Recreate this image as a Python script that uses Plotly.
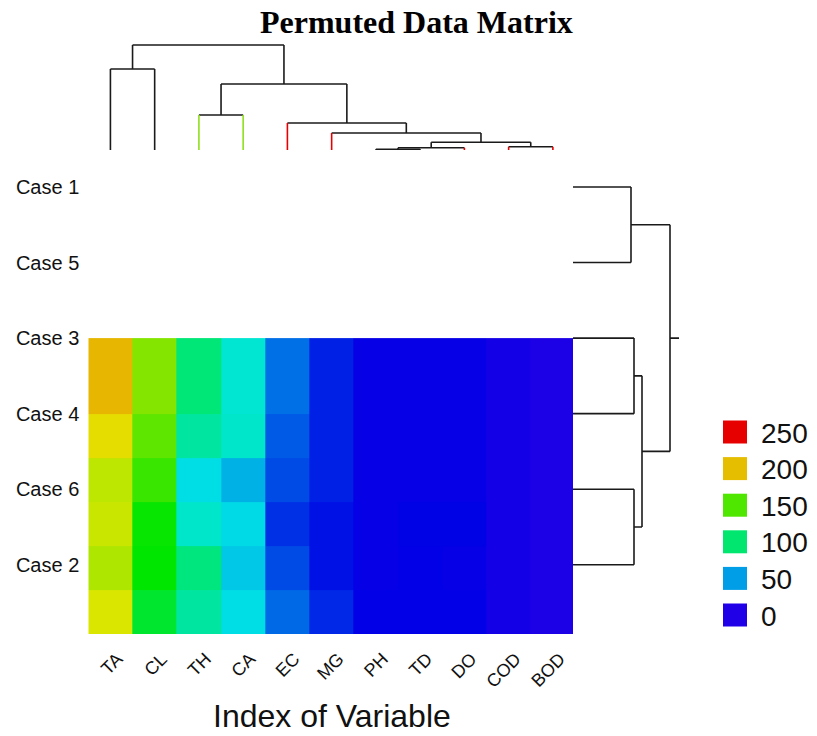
import colorsys
import plotly.graph_objects as go

# ---------------- data ----------------
variables = ["TA", "CL", "TH", "CA", "EC", "MG", "PH", "TD", "DO", "COD", "BOD"]
cases = ["Case 1", "Case 5", "Case 3", "Case 4", "Case 6", "Case 2"]

# heatmap values, bands from top to bottom
band_1 = [202, 164, 98, 74, 38, 17, 7, 7, 7, 3, 1]
band_2 = [192, 154, 87, 76, 32, 17, 7, 7, 7, 3, 1]
band_3 = [179, 144, 67, 55, 28, 17, 7, 7, 7, 3, 1]
band_4 = [182, 131, 76, 66, 21, 13, 7, 9, 9, 3, 1]
band_5 = [175, 129, 96, 61, 28, 13, 7, 8, 7, 3, 1]
band_6 = [187, 117, 87, 67, 36, 19, 8, 8, 8, 3, 1]
# band boundaries in case-index units (as drawn in the original)
band_edges = [2.0, 3.0, 3.583, 4.167, 4.75, 5.333, 5.917]

# column dendrogram merges: (left, right, height); leaves 0..10, new clusters 11..
col_merges = [
    (6, 7, 3),
    (11, 8, 9),
    (9, 10, 13),
    (12, 13, 31),
    (5, 14, 68),
    (4, 15, 108),
    (2, 3, 140),
    (17, 16, 264),
    (0, 1, 324),
    (19, 18, 420),
]
col_leaf_group = ["k", "k", "g", "g", "r", "r", "k", "k", "r", "r", "r"]

# row dendrogram merges: leaves 0..5 in displayed order, new clusters 6..
row_merges = [
    (0, 1, 232),
    (2, 3, 244),
    (4, 5, 244),
    (7, 8, 276),
    (6, 9, 388),
]

legend_values = [250, 200, 150, 100, 50, 0]

# ---------------- styling helpers ----------------
W, H = 817, 736
HUE_END = 0.69
ZMAX = 250.0


def value_color(v):
    h = HUE_END * (1 - v / ZMAX)
    r, g, b = colorsys.hsv_to_rgb(h, 1.0, 0.9)
    return "rgb(%d,%d,%d)" % (round(r * 255), round(g * 255), round(b * 255))


colorscale = [[i / 60, value_color(ZMAX * i / 60)] for i in range(61)]
group_colors = {"k": "#1a1a1a", "g": "#8fe01a", "r": "#e60000"}


def px_x(p):
    return p / W


def px_y(p):
    return 1 - p / H


def dendro_segments(merges, n_leaves, leaf_group):
    pos = {i: float(i) for i in range(n_leaves)}
    hgt = {i: 0.0 for i in range(n_leaves)}
    segs = {"k": ([], [])}
    for key in set(leaf_group):
        segs.setdefault(key, ([], []))

    def add(key, a, b):
        ps, hs = segs[key]
        ps += [a[0], b[0], None]
        hs += [a[1], b[1], None]

    nid = n_leaves
    for l, r, h in merges:
        for c in (l, r):
            key = leaf_group[c] if c < n_leaves else "k"
            add(key, (pos[c], hgt[c]), (pos[c], h))
        add("k", (pos[l], h), (pos[r], h))
        pos[nid] = (pos[l] + pos[r]) / 2
        hgt[nid] = h
        nid += 1
    return segs, pos[nid - 1], hgt[nid - 1]


fig = go.Figure()

# heatmap
fig.add_trace(go.Heatmap(
    z=[band_1, band_2, band_3, band_4, band_5, band_6],
    x=list(range(len(variables))),
    y=band_edges,
    zmin=0, zmax=ZMAX,
    colorscale=colorscale,
    showscale=False,
    xaxis="x", yaxis="y",
    hoverinfo="skip",
))

# column dendrogram (positions on x, heights on y3)
csegs, _, _ = dendro_segments(col_merges, len(variables), col_leaf_group)
for key, (ps, hs) in csegs.items():
    fig.add_trace(go.Scatter(x=ps, y=hs, mode="lines",
                             line=dict(color=group_colors[key], width=1.6),
                             xaxis="x", yaxis="y3", showlegend=False,
                             hoverinfo="skip"))

# row dendrogram (heights on x3, positions on y)
rsegs, root_pos, root_h = dendro_segments(row_merges, len(cases), ["k"] * len(cases))
ps, hs = rsegs["k"]
ps = list(ps) + [root_pos, root_pos, None]
hs = list(hs) + [root_h, root_h * 1.093, None]
fig.add_trace(go.Scatter(x=hs, y=ps, mode="lines",
                         line=dict(color="#1a1a1a", width=1.6),
                         xaxis="x3", yaxis="y", showlegend=False,
                         hoverinfo="skip"))

# legend drawn as squares + labels
shapes = []
annotations = []
for k, v in enumerate(legend_values):
    cy = 432 + 36.6 * k
    shapes.append(dict(type="rect", xref="paper", yref="paper",
                       x0=px_x(723), x1=px_x(747),
                       y0=px_y(cy + 11.5), y1=px_y(cy - 11.5),
                       fillcolor=value_color(v), line=dict(width=0)))
    annotations.append(dict(text=str(v), xref="paper", yref="paper",
                            x=px_x(759), y=px_y(cy + 1), xanchor="left",
                            yanchor="middle", showarrow=False,
                            font=dict(family="Liberation Sans", size=28,
                                      color="#111")))

annotations.append(dict(text="<b>Permuted Data Matrix</b>", xref="paper",
                        yref="paper", x=px_x(416), y=px_y(22),
                        xanchor="center", yanchor="middle", showarrow=False,
                        font=dict(family="Liberation Serif", size=32,
                                  color="black")))
annotations.append(dict(text="Index of Variable", xref="x", yref="paper",
                        x=5, y=px_y(716), xanchor="center", yanchor="middle",
                        showarrow=False,
                        font=dict(family="Liberation Sans", size=32,
                                  color="#111")))

fig.update_layout(
    width=W, height=H,
    margin=dict(l=0, r=0, t=0, b=0),
    paper_bgcolor="white", plot_bgcolor="white",
    showlegend=False,
    shapes=shapes,
    annotations=annotations,
    xaxis=dict(domain=[px_x(88.3), px_x(575)], range=[-0.5, 10.5],
               anchor="y", tickmode="array",
               tickvals=list(range(len(variables))), ticktext=variables,
               tickangle=-45, showgrid=False, zeroline=False, showline=False,
               ticks="", ticklabelstandoff=10, ticklabelshift=7,
               tickfont=dict(family="Liberation Sans", size=18, color="#111")),
    yaxis=dict(domain=[px_y(634), px_y(149.25)], range=[5.917, -0.5],
               anchor="x", tickmode="array",
               tickvals=list(range(len(cases))), ticktext=cases,
               showgrid=False, zeroline=False, showline=False, ticks="",
               ticklabelstandoff=8,
               tickfont=dict(family="Liberation Sans", size=20, color="#111")),
    yaxis3=dict(domain=[px_y(150), px_y(42.5)], range=[0, 430], anchor="x",
                visible=False, showgrid=False, zeroline=False),
    xaxis3=dict(domain=[px_x(573), px_x(680.5)], range=[0, 430], anchor="y",
                visible=False, showgrid=False, zeroline=False),
)

fig.write_html("out.html",
               config={"displayModeBar": False},
               post_script="document.body.style.margin='0px';"
                           "document.body.style.overflow='hidden';")
